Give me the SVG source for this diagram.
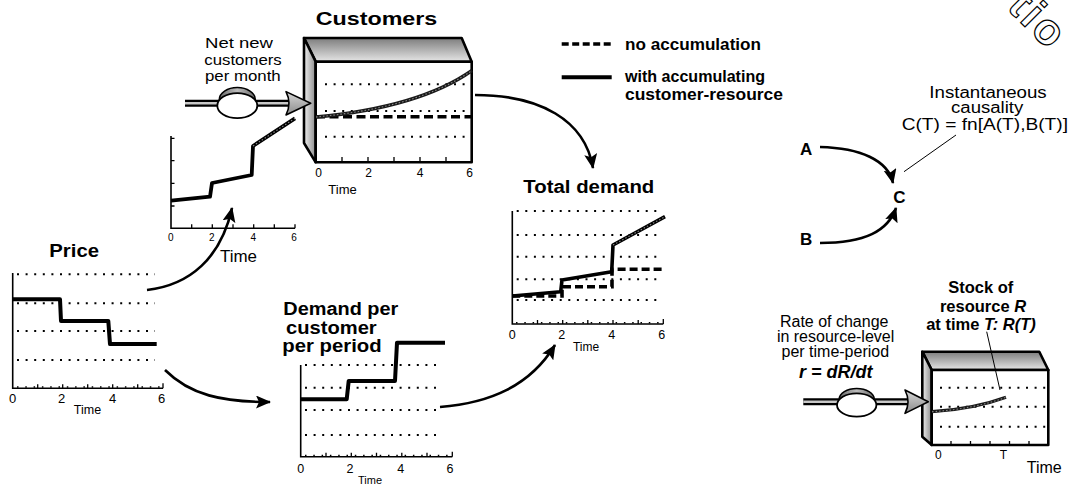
<svg xmlns="http://www.w3.org/2000/svg" width="1070" height="487" viewBox="0 0 1070 487">
  <defs>
    <style>
      text { font-family: "Liberation Sans", Arial, Helvetica, sans-serif; fill: #000; }
      .title { font-weight: bold; font-size: 18px; }
      .lbl { font-size: 15px; }
      .bold { font-weight: bold; }
      .tick { font-size: 12px; text-anchor: middle; }
      .axis { fill: none; stroke: #000; stroke-width: 1.6; }
      .tk { stroke: #000; stroke-width: 1.3; }
      .grid { fill: none; stroke: #000; stroke-width: 2; stroke-dasharray: 2 6.6; }
      .series { fill: none; stroke: #000; stroke-width: 4; stroke-linejoin: round; }
      .dash { fill: none; stroke: #000; stroke-width: 3.6; stroke-dasharray: 9 4.5; }
      .grain { fill: none; stroke: #8a8a8a; stroke-width: 1.1; stroke-dasharray: 1.5 2; }
      .conn { fill: none; stroke: #000; stroke-width: 2.6; }
      .leader { fill: none; stroke: #000; stroke-width: 1; }
      .box { stroke: #000; stroke-width: 2.6; stroke-linejoin: round; }
    </style>
    <linearGradient id="gTop" x1="0" y1="0" x2="0" y2="1">
      <stop offset="0" stop-color="#7d7d7d"/>
      <stop offset="1" stop-color="#e6e6e6"/>
    </linearGradient>
    <linearGradient id="gSide" x1="0" y1="0" x2="1" y2="0">
      <stop offset="0" stop-color="#f0f0f0"/>
      <stop offset="1" stop-color="#8c8c8c"/>
    </linearGradient>
    <linearGradient id="gHead" x1="0" y1="0" x2="0" y2="1">
      <stop offset="0" stop-color="#d8d8d8"/>
      <stop offset="1" stop-color="#8a8a8a"/>
    </linearGradient>
    <linearGradient id="gCap" x1="0" y1="0" x2="1" y2="0">
      <stop offset="0" stop-color="#666"/>
      <stop offset="0.5" stop-color="#bdbdbd"/>
      <stop offset="1" stop-color="#6a6a6a"/>
    </linearGradient>
    <marker id="ah" markerUnits="userSpaceOnUse" markerWidth="16" markerHeight="14" refX="14" refY="6.5" orient="auto">
      <path d="M0,0 L15,6.5 L0,13 L3,6.5 Z" fill="#000"/>
    </marker>
  </defs>

  <rect width="1070" height="487" fill="#fff"/>

  <!-- outlined lettering cut by the top-right edge -->
  <text transform="translate(1006,8) rotate(45)" font-size="44" font-weight="bold" letter-spacing="3" style="fill:#fff;stroke:#000;stroke-width:1.2">tio</text>

  <!-- legend -->
  <g id="legend">
    <line x1="561.7" y1="44" x2="611.7" y2="44" class="dash" style="stroke-dasharray:7 3.5"/>
    <text x="625" y="50" class="bold" font-size="17" textLength="136" lengthAdjust="spacingAndGlyphs">no accumulation</text>
    <line x1="561.7" y1="77.3" x2="611.7" y2="77.3" stroke="#000" stroke-width="4"/>
    <text x="625" y="82" class="bold" font-size="17" textLength="140" lengthAdjust="spacingAndGlyphs">with accumulating</text>
    <text x="625" y="100" class="bold" font-size="17" textLength="158" lengthAdjust="spacingAndGlyphs">customer-resource</text>
  </g>

  <!-- stock: Customers -->
  <g id="customers">
    <text x="315.7" y="25" class="title" font-size="19" textLength="121.6" lengthAdjust="spacingAndGlyphs">Customers</text>
    <polygon points="304,38 461.7,38 471.7,61.7 315.7,61.7" fill="url(#gTop)" class="box"/>
    <polygon points="304,38 315.7,61.7 315.7,162.3 304,143" fill="url(#gSide)" class="box"/>
    <rect x="315.7" y="61.7" width="156" height="100.6" fill="#fff" class="box"/>
    <line x1="325" y1="84.3" x2="470" y2="84.3" class="grid"/>
    <line x1="325" y1="111" x2="470" y2="111" class="grid"/>
    <line x1="325" y1="136.7" x2="470" y2="136.7" class="grid"/>
    <path d="M342,162 v-5 M368,162 v-5 M394,162 v-5 M420,162 v-5 M446,162 v-5" class="tk"/>
    <line x1="316" y1="116.7" x2="471" y2="116.7" class="dash"/>
    <path d="M316,117 C370,112 430,100 472,70.5" fill="none" stroke="#1a1a1a" stroke-width="3.4"/>
    <path d="M316,117 C370,112 430,100 472,70.5" class="grain"/>
    <text x="318.5" y="176.7" class="tick">0</text>
    <text x="368.5" y="176.7" class="tick">2</text>
    <text x="420" y="176.7" class="tick">4</text>
    <text x="469.5" y="176.7" class="tick">6</text>
    <text x="342.5" y="194" font-size="13" text-anchor="middle">Time</text>
  </g>

  <!-- flow: Net new customers per month -->
  <g id="net-new-customers">
    <text x="205" y="48.3" class="lbl" textLength="68" lengthAdjust="spacingAndGlyphs">Net new</text>
    <text x="204.3" y="65" class="lbl" textLength="77.4" lengthAdjust="spacingAndGlyphs">customers</text>
    <text x="205" y="81" class="lbl" textLength="75.7" lengthAdjust="spacingAndGlyphs">per month</text>
    <line x1="185" y1="103.3" x2="292" y2="103.3" stroke="#000" stroke-width="7"/>
    <line x1="185" y1="103.3" x2="292" y2="103.3" stroke="#c8c8c8" stroke-width="2.6"/>
    <ellipse cx="237.3" cy="99.5" rx="18" ry="12" fill="url(#gCap)" stroke="#000" stroke-width="1.5"/>
    <ellipse cx="237.3" cy="105.7" rx="20" ry="12.5" fill="#fff" stroke="#000" stroke-width="1.8"/>
    <path d="M286,91.6 L310.7,103.3 L286,115 Q292,103.3 286,91.6 Z" fill="url(#gHead)" stroke="#000" stroke-width="1.6" stroke-linejoin="round"/>
  </g>

  <!-- chart: net new customers over time -->
  <g id="net-new-chart">
    <path d="M171,136 V228.3 H295" class="axis"/>
    <path d="M171,138.3 h3.5 M171,160.7 h3.5 M171,183.3 h3.5 M171,206 h3.5" class="tk"/>
    <path d="M191.7,228.3 v-4 M212.3,228.3 v-4 M233,228.3 v-4 M253.7,228.3 v-4 M274.3,228.3 v-4 M295,228.3 v-4" class="tk"/>
    <polyline points="171,200.7 210,196.7 212,183 251.7,175 253,146 295,118.3" class="series" style="stroke-width:3.8"/>
    <line x1="253" y1="146" x2="295" y2="118.3" class="grain"/>
    <text x="170.7" y="241" font-size="10" text-anchor="middle">0</text>
    <text x="211.7" y="241" font-size="10" text-anchor="middle">2</text>
    <text x="253.3" y="241" font-size="10" text-anchor="middle">4</text>
    <text x="294" y="241" font-size="10" text-anchor="middle">6</text>
    <text x="220" y="261.7" font-size="16" textLength="37" lengthAdjust="spacingAndGlyphs">Time</text>
  </g>

  <!-- chart: Price -->
  <g id="price">
    <text x="49.3" y="256.7" class="title" font-size="18.6" textLength="49.7" lengthAdjust="spacingAndGlyphs">Price</text>
    <line x1="17" y1="274.3" x2="155" y2="274.3" class="grid"/>
    <line x1="17" y1="303.3" x2="155" y2="303.3" class="grid"/>
    <line x1="17" y1="331" x2="155" y2="331" class="grid"/>
    <line x1="17" y1="360" x2="155" y2="360" class="grid"/>
    <path d="M12.7,273 V388.3 H163" class="axis"/>
    <line x1="17" y1="387" x2="160" y2="387" class="grid" style="stroke-width:1.4;stroke-dasharray:1.5 6.8"/>
    <path d="M37.7,388.3 v-4 M62.7,388.3 v-4 M87.7,388.3 v-4 M112.7,388.3 v-4 M137.7,388.3 v-4 M163,388.3 v-5" class="tk"/>
    <polyline points="12.7,299.3 60,299.3 61,321 108.3,321 110,344 156.7,344" class="series"/>
    <text x="12.7" y="403.3" font-size="13" text-anchor="middle">0</text>
    <text x="61.7" y="403.3" font-size="13" text-anchor="middle">2</text>
    <text x="112.7" y="403.3" font-size="13" text-anchor="middle">4</text>
    <text x="161.7" y="403.3" font-size="13" text-anchor="middle">6</text>
    <text x="87.5" y="414" font-size="12.5" text-anchor="middle">Time</text>
  </g>

  <!-- chart: Demand per customer per period -->
  <g id="demand-per-customer">
    <text x="283.3" y="315" class="title" font-size="17" textLength="115" lengthAdjust="spacingAndGlyphs">Demand per</text>
    <text x="286" y="333.8" class="title" font-size="17" textLength="90.7" lengthAdjust="spacingAndGlyphs">customer</text>
    <text x="282.3" y="352.3" class="title" font-size="17" textLength="99.4" lengthAdjust="spacingAndGlyphs">per period</text>
    <line x1="305" y1="365" x2="442" y2="365" class="grid"/>
    <line x1="305" y1="387.7" x2="442" y2="387.7" class="grid"/>
    <line x1="305" y1="410" x2="442" y2="410" class="grid"/>
    <line x1="305" y1="435" x2="442" y2="435" class="grid"/>
    <path d="M300.7,365 V456.7 H452.3" class="axis"/>
    <line x1="305" y1="455.4" x2="450" y2="455.4" class="grid" style="stroke-width:1.4;stroke-dasharray:1.5 6.8"/>
    <path d="M326,456.7 v-4 M351.3,456.7 v-4 M376.5,456.7 v-4 M401.8,456.7 v-4 M427,456.7 v-4 M452.3,456.7 v-5" class="tk"/>
    <polyline points="300.7,399.3 346.7,399.3 348.7,381 395,381 397,342.7 445,342.7" class="series"/>
    <text x="300.7" y="473.3" font-size="12.5" text-anchor="middle">0</text>
    <text x="350" y="473.3" font-size="12.5" text-anchor="middle">2</text>
    <text x="400.7" y="473.3" font-size="12.5" text-anchor="middle">4</text>
    <text x="450" y="473.3" font-size="12.5" text-anchor="middle">6</text>
    <text x="370" y="484" font-size="11" text-anchor="middle">Time</text>
  </g>

  <!-- chart: Total demand -->
  <g id="total-demand">
    <text x="523.3" y="193.3" class="title" textLength="131" lengthAdjust="spacingAndGlyphs">Total demand</text>
    <line x1="516.7" y1="211" x2="662" y2="211" class="grid"/>
    <line x1="516.7" y1="235" x2="662" y2="235" class="grid"/>
    <line x1="516.7" y1="256.7" x2="662" y2="256.7" class="grid"/>
    <line x1="516.7" y1="279.3" x2="662" y2="279.3" class="grid"/>
    <line x1="516.7" y1="300" x2="662" y2="300" class="grid"/>
    <path d="M512.3,211 V324 H663.3" class="axis"/>
    <line x1="516" y1="322.7" x2="662" y2="322.7" class="grid" style="stroke-width:1.4;stroke-dasharray:1.5 6.8"/>
    <path d="M537.5,324 v-4 M562.7,324 v-4 M587.8,324 v-4 M613,324 v-4 M638.2,324 v-4 M663.3,324 v-5" class="tk"/>
    <polyline points="512.3,296 560,296 562,296 562,286.7 612,286.7 612,269.3 665,269.3" class="dash" style="stroke-dasharray:8 4"/>
    <polyline points="512.3,296 560.7,291.7 562,280 611.7,271.7 613,245 665,216.7" class="series" style="stroke-width:3.6"/>
    <line x1="613" y1="245" x2="665" y2="216.7" class="grain"/>
    <text x="512.3" y="339" font-size="12.5" text-anchor="middle">0</text>
    <text x="561.7" y="339" font-size="12.5" text-anchor="middle">2</text>
    <text x="611.7" y="339" font-size="12.5" text-anchor="middle">4</text>
    <text x="661.7" y="339" font-size="12.5" text-anchor="middle">6</text>
    <text x="586" y="350.7" font-size="12" text-anchor="middle">Time</text>
  </g>

  <!-- instantaneous causality example -->
  <g id="node-a"><text x="800" y="155" class="bold" font-size="17">A</text></g>
  <g id="node-b"><text x="800" y="245" class="bold" font-size="17">B</text></g>
  <g id="node-c"><text x="893.3" y="203.3" class="bold" font-size="17">C</text></g>
  <g id="causality-note">
    <text x="929.3" y="98.3" font-size="16" textLength="117.4" lengthAdjust="spacingAndGlyphs">Instantaneous</text>
    <text x="951" y="113.3" font-size="16" textLength="72.3" lengthAdjust="spacingAndGlyphs">causality</text>
    <text x="901.7" y="130" font-size="16" textLength="166.3" lengthAdjust="spacingAndGlyphs">C(T) = fn[A(T),B(T)]</text>
  </g>

  <!-- stock with inflow: resource R -->
  <g id="stock-r">
    <text x="980.8" y="293.3" class="bold" font-size="16.5" text-anchor="middle">Stock of</text>
    <text x="983" y="311.7" class="bold" font-size="16.5" text-anchor="middle">resource <tspan font-style="italic">R</tspan></text>
    <text x="981" y="330" class="bold" font-size="16.5" text-anchor="middle">at time <tspan font-style="italic">T: R(T)</tspan></text>
    <polygon points="922.3,351.7 1039.3,351.7 1048.3,370 931.7,370" fill="url(#gTop)" class="box"/>
    <polygon points="922.3,351.7 931.7,370 931.7,445 922.3,436.7" fill="url(#gSide)" class="box"/>
    <rect x="931.7" y="370" width="116.6" height="75" fill="#fff" class="box"/>
    <line x1="940" y1="387.7" x2="1046" y2="387.7" class="grid"/>
    <line x1="940" y1="406.7" x2="1046" y2="406.7" class="grid"/>
    <line x1="940" y1="426.7" x2="1046" y2="426.7" class="grid"/>
    <path d="M951,445 v-4 M970.5,445 v-4 M990,445 v-4 M1009.5,445 v-4 M1029,445 v-4" class="tk"/>
    <path d="M932,411.7 C960,410 985,405 1006,397.3" fill="none" stroke="#1a1a1a" stroke-width="3.2"/>
    <path d="M932,411.7 C960,410 985,405 1006,397.3" class="grain"/>
    <line x1="986.7" y1="331.7" x2="1000" y2="390" class="leader"/>
    <text x="938.3" y="459.3" font-size="12" text-anchor="middle">0</text>
    <text x="1003.3" y="459.3" font-size="12" text-anchor="middle">T</text>
    <text x="1026.7" y="473.3" font-size="16" textLength="35" lengthAdjust="spacingAndGlyphs">Time</text>
  </g>

  <!-- inflow: r = dR/dt -->
  <g id="flow-r">
    <text x="834.2" y="326.7" font-size="16" text-anchor="middle">Rate of change</text>
    <text x="835.6" y="341.7" font-size="16" text-anchor="middle">in resource-level</text>
    <text x="835.3" y="356.7" font-size="16" text-anchor="middle">per time-period</text>
    <text x="835.8" y="378.3" font-size="18" font-weight="bold" font-style="italic" text-anchor="middle">r = dR/dt</text>
    <line x1="803.3" y1="401.7" x2="910" y2="401.7" stroke="#000" stroke-width="7"/>
    <line x1="803.3" y1="401.7" x2="910" y2="401.7" stroke="#c8c8c8" stroke-width="2.6"/>
    <ellipse cx="856.7" cy="399" rx="17.5" ry="10.5" fill="url(#gCap)" stroke="#000" stroke-width="1.5"/>
    <ellipse cx="856.7" cy="405" rx="19.7" ry="11.7" fill="#fff" stroke="#000" stroke-width="1.8"/>
    <path d="M905,390 L928.3,401.7 L905,413.4 Q911,401.7 905,390 Z" fill="url(#gHead)" stroke="#000" stroke-width="1.6" stroke-linejoin="round"/>
  </g>

  <!-- causal connectors -->
  <g id="connectors">
    <path d="M147,290 C190,285 221,258 232,208" class="conn" marker-end="url(#ah)"/>
    <path d="M165,370 C190,395 222,402 270,402" class="conn" marker-end="url(#ah)"/>
    <path d="M475,95 C540,95 585,120 593,168" class="conn" marker-end="url(#ah)"/>
    <path d="M440,407 C490,403 530,386 555,345" class="conn" marker-end="url(#ah)"/>
    <path d="M820,147 C860,148 888,160 893,183" class="conn" marker-end="url(#ah)"/>
    <path d="M820,243 C865,243 888,231 896,208" class="conn" marker-end="url(#ah)"/>
    <line x1="904" y1="171.7" x2="956" y2="135" class="leader"/>
  </g>
</svg>
